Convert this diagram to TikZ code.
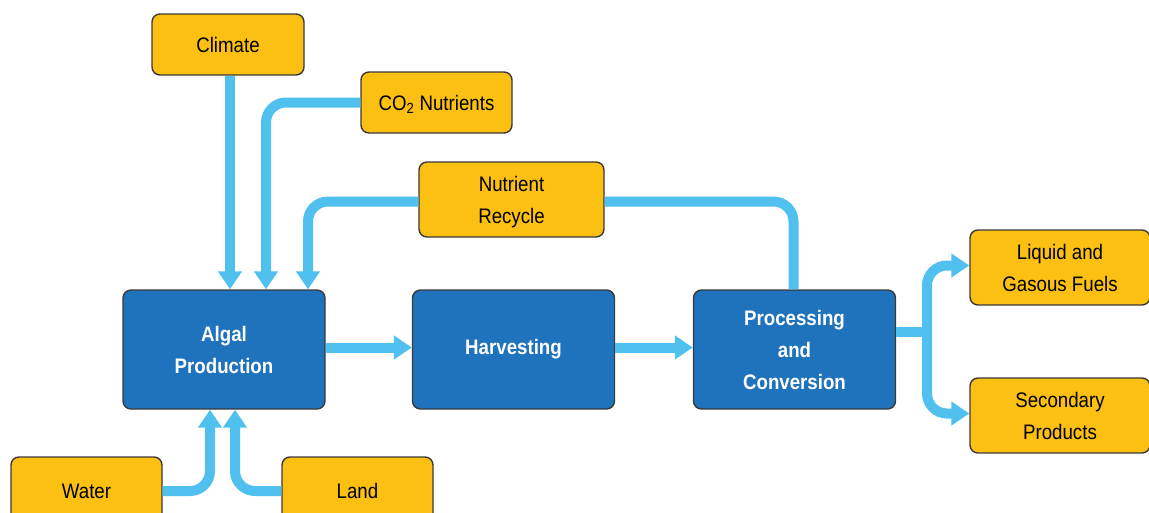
\documentclass[tikz,border=0pt]{standalone}
\usepackage{fontspec}
\setmainfont[FakeStretch=0.89]{Liberation Sans}
\usetikzlibrary{arrows.meta}
\definecolor{boxyellow}{HTML}{FBC012}
\definecolor{boxblue}{HTML}{1F73BC}
\definecolor{flowblue}{HTML}{50C1EE}
\definecolor{edge}{HTML}{3A3A3A}
\tikzset{
  inbox/.style={draw=edge, line width=1.4pt, fill=boxyellow, rounded corners=8pt,
    align=center, font=\fontsize{21}{32}\selectfont, text=black, inner sep=0pt,
    text depth=-2pt},
  stagebox/.style={draw=edge, line width=1.4pt, fill=boxblue, rounded corners=8pt,
    align=center, font=\fontsize{21}{32}\selectfont\bfseries, text=white, inner sep=0pt,
    minimum width=202pt, minimum height=119pt},
  flowline/.style={draw=flowblue, line width=10pt, rounded corners=20pt},
  flow/.style={flowline, -{Triangle[width=23pt,length=18pt]}}
}
\begin{document}
\begin{tikzpicture}[x=1pt,y=-1pt]
\useasboundingbox (0,0) rectangle (1149,512);
\clip (0,0) rectangle (1149,512);

% stages of the process
\node[stagebox] (algal) at (224,349.5) {Algal\\Production};
\node[stagebox] (harv)  at (513.5,349.5) {Harvesting};
\node[stagebox] (proc)  at (794.5,349.5) {Processing\\and\\Conversion};

% inputs and outputs
\node[inbox, minimum width=152pt, minimum height=61pt] (climate) at (228,44.5) {Climate};
\node[inbox, minimum width=151pt, minimum height=61pt] (co2) at (436.5,102.5) {CO\textsubscript{2} Nutrients};
\node[inbox, minimum width=185pt, minimum height=75pt] (recycle) at (511.5,199.5) {Nutrient\\Recycle};
\node[inbox, minimum width=180pt, minimum height=75pt] (fuels) at (1060,267.5) {Liquid and\\Gasous Fuels};
\node[inbox, minimum width=180pt, minimum height=75pt] (second) at (1060,415.5) {Secondary\\Products};
\node[inbox, minimum width=151pt, minimum height=68pt] (water) at (86.5,491) {Water};
\node[inbox, minimum width=151pt, minimum height=68pt] (land) at (357.5,491) {Land};

% feeds into algal production
\draw[flow] ([xshift=2pt]climate.south) -- ([xshift=6pt]algal.north);
\draw[flow] (co2.west) -| ([xshift=42pt]algal.north);
\draw[flow] ([yshift=-2pt]recycle.west) -| ([xshift=84pt]algal.north);
\draw[flow] (water.east) -| ([xshift=-14pt]algal.south);
\draw[flow] (land.west) -| ([xshift=11pt]algal.south);

% main chain
\draw[flow] ([yshift=2pt]algal.east) -- ([yshift=2pt]harv.west);
\draw[flow] ([yshift=2pt]harv.east) -- ([yshift=2pt]proc.west);

% recycle loop
\draw[flowline] ([xshift=-1pt]proc.north) |- ([yshift=-2pt]recycle.east);

% outputs
\coordinate (fork) at (927,332);
\draw[draw=flowblue, line width=10pt] ([yshift=17.5pt]proc.east) -- ([xshift=5pt]fork);
\draw[flow] (fork) |- ([yshift=2pt]fuels.west);
\draw[flow] (fork) |- ([yshift=2pt]second.west);
\end{tikzpicture}
\end{document}
